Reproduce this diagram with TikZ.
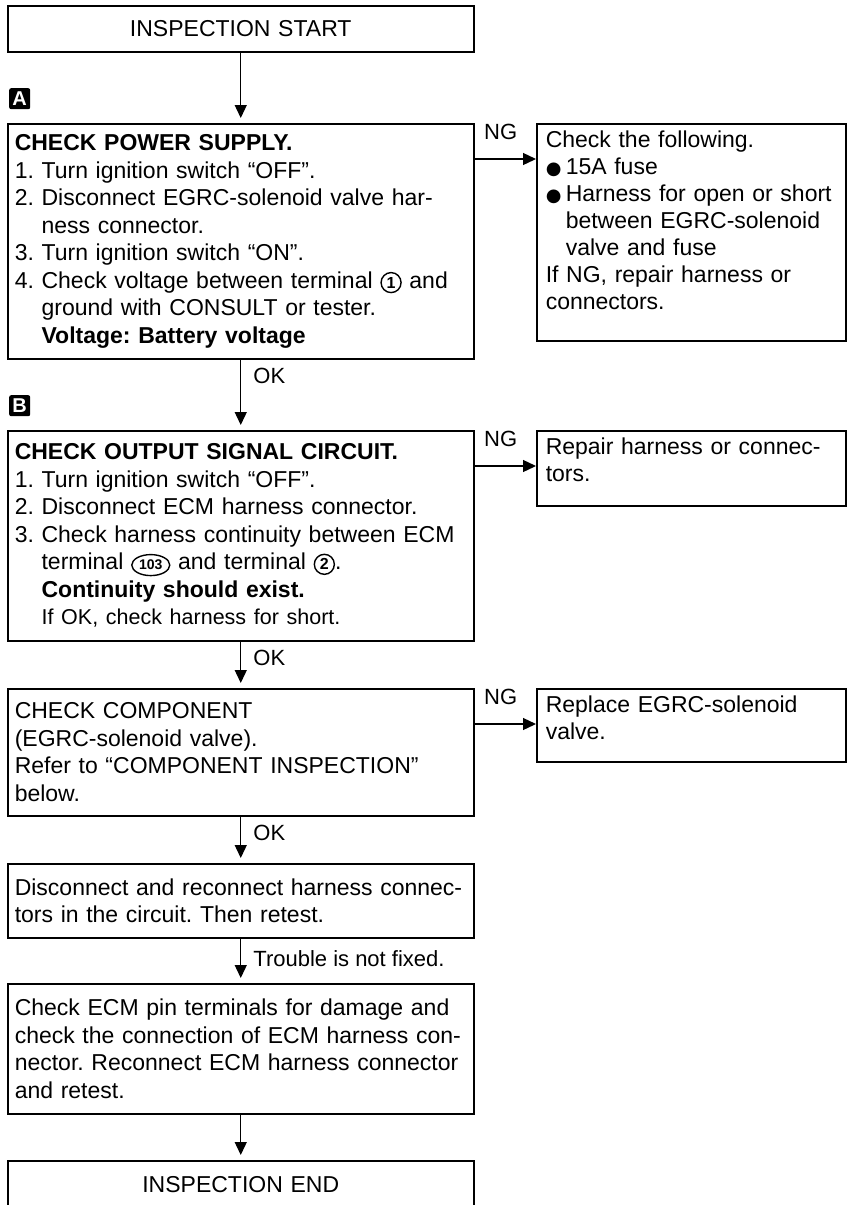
\documentclass[tikz,border=0pt]{standalone}
\usepackage{fontspec}
\setmainfont{Liberation Sans}
\newfontfamily\symfont{DejaVu Sans}
\usetikzlibrary{arrows.meta,shapes.geometric}
\frenchspacing

% circled terminal numbers
\newcommand{\pin}[1]{\tikz[baseline=(t.base)]\node[circle, draw, line width=1.4pt,
  inner sep=0pt, minimum size=20pt, text width=, text height=, text depth=,
  align=center, font=\fontsize{16}{16}\selectfont\bfseries] (t) {#1};}
\newcommand{\ecmpin}[1]{\tikz[baseline=(t.base)]\node[ellipse, draw, line width=1.4pt,
  inner sep=0pt, minimum width=38pt, minimum height=21pt, text width=, text height=,
  text depth=, align=center, font=\fontsize{14}{14}\selectfont\bfseries] (t) {#1};}
% bullet and the indent under it
\newcommand{\blt}{\makebox[20pt][l]{\symfont\fontsize{18}{18}\selectfont ●}}
\newcommand{\bind}{\hspace*{20pt}}

\begin{document}
\begin{tikzpicture}[x=1pt, y=-1pt,
    box/.style ={draw, line width=1.5pt, anchor=north west, text width=452pt,
      inner xsep=7pt, inner ysep=0pt, align=left,
      font=\fontsize{23}{27.5}\selectfont},
    ngbox/.style ={draw, line width=1.5pt, anchor=north west, text width=291pt,
      inner xsep=9pt, inner ysep=8pt, text height=16pt, align=left,
      font=\fontsize{23}{27}\selectfont},
    badge/.style ={fill=black, text=white, rounded corners=2pt, anchor=north west,
      minimum size=21pt, inner sep=0pt, font=\fontsize{20}{20}\selectfont\bfseries},
    arr/.style ={line width=1.3pt, -{Triangle[length=13pt,width=12pt]}},
    ok/.style ={anchor=base west, inner sep=0pt, xshift=12pt, yshift=-24pt,
      font=\fontsize{22}{22}\selectfont},
    ng/.style ={anchor=base west, inner sep=0pt, xshift=9pt, yshift=20pt,
      font=\fontsize{22}{22}\selectfont}]
   \useasboundingbox (0,0) rectangle (850,1205);
   \clip (0,0) rectangle (850,1205);

   % main column
   \node[box, align=center, minimum height=46pt] (start) at (7,5) {INSPECTION START};
   \node[badge] (tagA) at (9,88) {A};
   \node[box, minimum height=235pt] (power) at (7,123) {\textbf{CHECK POWER SUPPLY.}\\
     1. Turn ignition switch “OFF”.\\
     2. Disconnect EGRC-solenoid valve har-\\
     \phantom{2.} ness connector.\\
     3. Turn ignition switch “ON”.\\
     4. Check voltage between terminal \pin{1} and\\
     \phantom{4.} ground with CONSULT or tester.\\
     \phantom{4.} \textbf{Voltage: Battery voltage}};
   \node[badge] (tagB) at (9,395) {B};
   \node[box, minimum height=210pt] (signal) at (7,430) {\textbf{CHECK OUTPUT SIGNAL CIRCUIT.}\\
     1. Turn ignition switch “OFF”.\\
     2. Disconnect ECM harness connector.\\
     3. Check harness continuity between ECM\\
     \phantom{3.} terminal \ecmpin{103} and terminal \pin{2}.\\
     \phantom{3.} \textbf{Continuity should exist.}\\
     \phantom{3.} {\fontsize{21.5}{27.5}\selectfont If OK, check harness for short.}};
   \node[box, minimum height=127pt] (part) at (7,688) {CHECK COMPONENT\\
     (EGRC-solenoid valve).\\
     Refer to “COMPONENT INSPECTION”\\
     below.};
   \node[box, minimum height=74pt] (reconn) at (7,863) {Disconnect and reconnect harness connec-\\
     tors in the circuit. Then retest.};
   \node[box, minimum height=130pt] (ecm) at (7,983) {Check ECM pin terminals for damage and\\
     check the connection of ECM harness con-\\
     nector. Reconnect ECM harness connector\\
     and retest.};
   \node[box, align=center, minimum height=48pt] (finish) at (7,1160) {INSPECTION END};

   % NG side
   \node[ngbox, text depth=185pt] (fuse) at (536,123) {Check the following.\\
     \blt 15A fuse\\
     \blt Harness for open or short\\
     \bind between EGRC-solenoid\\
     \bind valve and fuse\\
     If NG, repair harness or\\
     connectors.};
   \node[ngbox, text depth=43pt] (repair) at (536,430) {Repair harness or connec-\\
     tors.};
   \node[ngbox, text depth=41pt] (valve) at (536,688) {Replace EGRC-solenoid\\
     valve.};

   \draw[arr, shorten >=5pt] (start) -- (power);
   \draw[arr, shorten >=5pt] (power) -- node[ok, pos=0] {OK} (signal);
   \draw[arr, shorten >=5pt] (signal) -- node[ok, pos=0] {OK} (part);
   \draw[arr, shorten >=5pt] (part) -- node[ok, pos=0] {OK} (reconn);
   \draw[arr, shorten >=5pt] (reconn) -- node[ok, pos=0, yshift=-4pt] {Trouble is not fixed.} (ecm);
   \draw[arr, shorten >=5pt] (ecm) -- (finish);

   \draw[arr] ([yshift=-36pt]power.north east) -- node[ng, pos=0] {NG} ([yshift=-36pt]fuse.north west);
   \draw[arr] ([yshift=-36pt]signal.north east) -- node[ng, pos=0] {NG} ([yshift=-36pt]repair.north west);
   \draw[arr] ([yshift=-36pt]part.north east) -- node[ng, pos=0] {NG} ([yshift=-36pt]valve.north west);
 \end{tikzpicture}
\end{document}
